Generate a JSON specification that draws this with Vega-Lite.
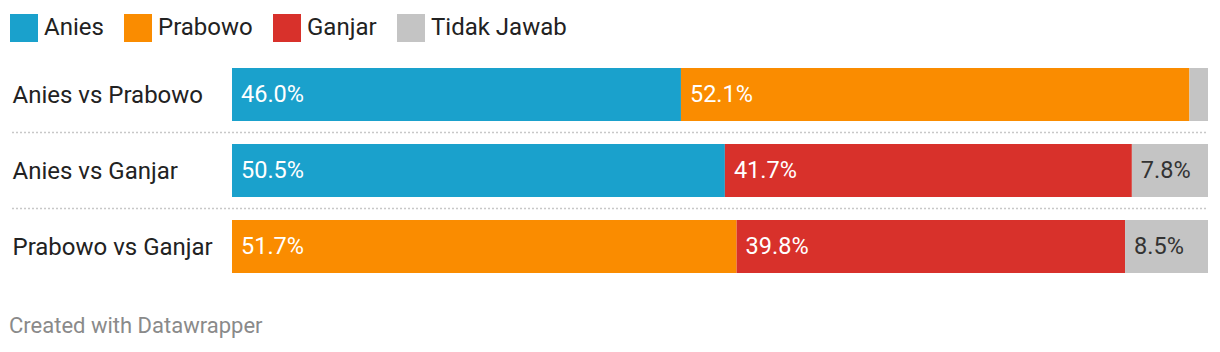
{
  "$schema": "https://vega.github.io/schema/vega-lite/v6.json",
  "width": 976,
  "height": 228,
  "autosize": {"type": "none"},
  "padding": {"left": 232, "top": 56.5, "right": 12, "bottom": 67.5},
  "background": "white",
  "title": {
    "text": "Created with Datawrapper",
    "orient": "bottom",
    "anchor": "start",
    "dx": -1,
    "offset": 48,
    "baseline": "alphabetic",
    "fontSize": 22,
    "font": "Roboto",
    "fontWeight": "normal",
    "color": "#8a8a8a"
  },
  "data": {
    "values": [
      {"matchup": "Anies vs Prabowo", "candidate": "Anies", "value": 46.0, "rank": 1},
      {"matchup": "Anies vs Prabowo", "candidate": "Prabowo", "value": 52.1, "rank": 2},
      {"matchup": "Anies vs Prabowo", "candidate": "Tidak Jawab", "value": 1.9, "rank": 3},
      {"matchup": "Anies vs Ganjar", "candidate": "Anies", "value": 50.5, "rank": 1},
      {"matchup": "Anies vs Ganjar", "candidate": "Ganjar", "value": 41.7, "rank": 2},
      {"matchup": "Anies vs Ganjar", "candidate": "Tidak Jawab", "value": 7.8, "rank": 3},
      {"matchup": "Prabowo vs Ganjar", "candidate": "Prabowo", "value": 51.7, "rank": 1},
      {"matchup": "Prabowo vs Ganjar", "candidate": "Ganjar", "value": 39.8, "rank": 2},
      {"matchup": "Prabowo vs Ganjar", "candidate": "Tidak Jawab", "value": 8.5, "rank": 3}
    ]
  },
  "transform": [
    {"stack": "value", "groupby": ["matchup"], "sort": [{"field": "rank", "order": "ascending"}], "as": ["v0", "v1"]},
    {"calculate": "format(datum.value, '.1f') + '%'", "as": "label"}
  ],
  "layer": [
    {
      "mark": {"type": "bar", "cornerRadius": 0},
      "encoding": {
        "y": {
          "field": "matchup", "type": "nominal",
          "sort": ["Anies vs Prabowo", "Anies vs Ganjar", "Prabowo vs Ganjar"],
          "scale": {"paddingInner": 0.3, "paddingOuter": 0.15},
          "axis": {
            "title": null, "domain": false, "ticks": false,
            "labelAlign": "left", "labelPadding": 220, "labelBaseline": "middle", "labelOffset": 1.5,
            "labelFontSize": 24, "labelFont": "Roboto", "labelColor": "#222222", "labelLimit": 300
          }
        },
        "x": {"field": "v0", "type": "quantitative", "scale": {"domain": [0, 100]}, "axis": null},
        "x2": {"field": "v1"},
        "color": {
          "field": "candidate", "type": "nominal",
          "scale": {
            "domain": ["Anies", "Prabowo", "Ganjar", "Tidak Jawab"],
            "range": ["#1aa1cc", "#fa8c00", "#d8312b", "#c4c4c4"]
          },
          "legend": {
            "orient": "none", "legendX": -222, "legendY": -42.5,
            "direction": "horizontal", "title": null,
            "symbolType": "square",
            "symbolSize": 784, "symbolStrokeWidth": 0, "symbolOpacity": 1,
            "labelFontSize": 24, "labelFont": "Roboto", "labelColor": "#222222",
            "labelOffset": 6, "columnPadding": 20
          }
        }
      }
    },
    {
      "transform": [{"filter": "datum.value >= 3"}],
      "mark": {"type": "text", "align": "left", "baseline": "middle", "dx": 9, "fontSize": 23.5, "font": "Roboto"},
      "encoding": {
        "y": {"field": "matchup", "type": "nominal", "sort": ["Anies vs Prabowo", "Anies vs Ganjar", "Prabowo vs Ganjar"]},
        "x": {"field": "v0", "type": "quantitative"},
        "text": {"field": "label"},
        "color": {"condition": {"test": "datum.candidate === 'Tidak Jawab'", "value": "#333333"}, "value": "#ffffff"}
      }
    },
    {
      "transform": [{"filter": "datum.rank == 1 && datum.matchup != 'Prabowo vs Ganjar'"}],
      "mark": {"type": "rule", "yOffset": 11.4, "xOffset": -220, "stroke": "#c8c8c8", "strokeWidth": 1.5, "strokeDash": [2, 2]},
      "encoding": {
        "y": {"field": "matchup", "type": "nominal", "sort": ["Anies vs Prabowo", "Anies vs Ganjar", "Prabowo vs Ganjar"], "bandPosition": 1},
        "x": {"datum": 0},
        "x2": {"datum": 100}
      }
    }
  ],
  "config": {"view": {"stroke": null}}
}
